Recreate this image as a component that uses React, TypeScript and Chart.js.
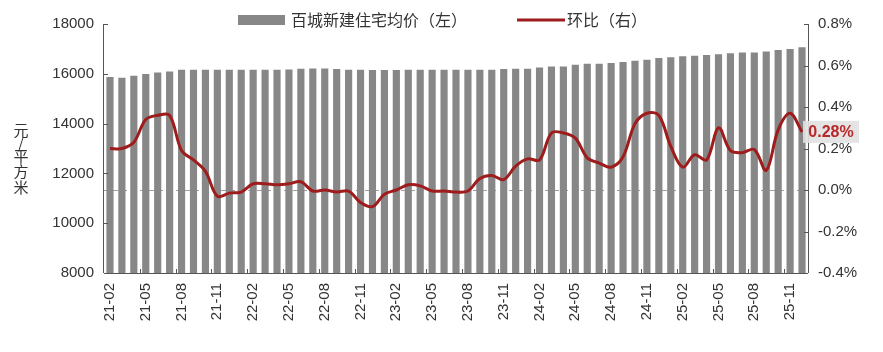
import React, { useEffect, useRef } from 'react';
import { Chart, registerables } from 'chart.js';

Chart.register(...registerables);

const categories = [
  '21-02', '21-03', '21-04', '21-05', '21-06', '21-07', '21-08', '21-09', '21-10', '21-11', '21-12',
  '22-01', '22-02', '22-03', '22-04', '22-05', '22-06', '22-07', '22-08', '22-09', '22-10', '22-11', '22-12',
  '23-01', '23-02', '23-03', '23-04', '23-05', '23-06', '23-07', '23-08', '23-09', '23-10', '23-11', '23-12',
  '24-01', '24-02', '24-03', '24-04', '24-05', '24-06', '24-07', '24-08', '24-09', '24-10', '24-11', '24-12',
  '25-01', '25-02', '25-03', '25-04', '25-05', '25-06', '25-07', '25-08', '25-09', '25-10', '25-11', '25-12',
];

const avgPrice = [
  15870, 15840, 15920, 15990, 16050, 16090, 16160, 16160, 16160, 16160, 16160,
  16160, 16160, 16160, 16160, 16170, 16200, 16210, 16210, 16190, 16160, 16160, 16150,
  16150, 16150, 16160, 16160, 16160, 16160, 16160, 16160, 16160, 16160, 16190, 16200,
  16200, 16250, 16290, 16290, 16360, 16400, 16400, 16430, 16470, 16520, 16560, 16630,
  16660, 16700, 16720, 16760, 16790, 16830, 16860, 16860, 16900, 16960, 17000, 17070,
];

const momPct = [
  0.20, 0.20, 0.23, 0.34, 0.36, 0.36, 0.19, 0.145, 0.09, -0.03, -0.015,
  -0.01, 0.03, 0.03, 0.025, 0.03, 0.04, -0.005, 0.0, -0.01, -0.005, -0.06, -0.08,
  -0.02, 0.0, 0.025, 0.02, -0.005, -0.005, -0.01, -0.005, 0.055, 0.07, 0.05, 0.115,
  0.15, 0.145, 0.275, 0.275, 0.25, 0.155, 0.13, 0.11, 0.16, 0.32, 0.37, 0.36,
  0.21, 0.11, 0.17, 0.145, 0.30, 0.19, 0.18, 0.195, 0.095, 0.29, 0.37, 0.28,
];

const leftTickMin = 8000;
const leftTickMax = 18000;
const leftTickStep = 2000;
const rightTickMin = -0.4;
const rightTickMax = 0.8;
const rightTickStep = 0.2;

const barLabel = '百城新建住宅均价（左）';
const lineLabel = '环比（右）';
const yTitleChars = ['元', '/', '平', '方', '米'];
const endLabel = '0.28%';

const FONT = "'Liberation Sans', Arial, sans-serif";
const CJK = "'Noto Sans CJK SC', 'Noto Sans', sans-serif";
const LINE_COLOR = '#9e1c1c';
const BAR_COLOR = '#878787';
const AXIS_COLOR = '#555555';

export default function App() {
  const ref = useRef<HTMLCanvasElement>(null);

  useEffect(() => {
    const canvas = ref.current;
    if (!canvas) return;

    const decor = {
      id: 'decor',
      beforeDatasetsDraw(chart: any) {
        const { ctx, chartArea, scales } = chart;
        const y0 = scales.y1.getPixelForValue(0);
        ctx.save();
        ctx.strokeStyle = '#a0a0a0';
        ctx.lineWidth = 1;
        ctx.setLineDash([5, 4]);
        ctx.beginPath();
        ctx.moveTo(chartArea.left, Math.round(y0) + 0.5);
        ctx.lineTo(chartArea.right, Math.round(y0) + 0.5);
        ctx.stroke();
        ctx.restore();
      },
      afterDraw(chart: any) {
        const { ctx, chartArea, scales } = chart;
        const { left, right, top, bottom } = chartArea;
        ctx.save();
        ctx.strokeStyle = AXIS_COLOR;
        ctx.lineWidth = 1;
        ctx.beginPath();
        ctx.moveTo(left - 0.5, top);
        ctx.lineTo(left - 0.5, bottom);
        ctx.moveTo(right + 0.5, top);
        ctx.lineTo(right + 0.5, bottom);
        ctx.moveTo(left, bottom + 0.5);
        ctx.lineTo(right, bottom + 0.5);
        for (let v = leftTickMin; v <= leftTickMax; v += leftTickStep) {
          const y = Math.round(scales.y.getPixelForValue(v)) + 0.5;
          ctx.moveTo(left, y);
          ctx.lineTo(left + 4, y);
        }
        for (let i = 0; i <= Math.round((rightTickMax - rightTickMin) / rightTickStep); i++) {
          const v = rightTickMin + i * rightTickStep;
          const y = Math.round(scales.y1.getPixelForValue(v)) + 0.5;
          ctx.moveTo(right, y);
          ctx.lineTo(right - 4, y);
        }
        const w = (right - left) / categories.length;
        for (let k = 3; k < categories.length; k += 3) {
          const x = Math.round(left + k * w) + 0.5;
          ctx.moveTo(x, bottom);
          ctx.lineTo(x, bottom - 4);
        }
        ctx.stroke();

        // legend
        ctx.fillStyle = BAR_COLOR;
        ctx.fillRect(238, 15, 47, 10);
        ctx.fillStyle = '#333';
        ctx.font = `16px ${CJK}`;
        ctx.textBaseline = 'middle';
        ctx.textAlign = 'left';
        ctx.fillText(barLabel, 291, 20);
        ctx.strokeStyle = LINE_COLOR;
        ctx.lineWidth = 3;
        ctx.beginPath();
        ctx.moveTo(517, 20);
        ctx.lineTo(565, 20);
        ctx.stroke();
        ctx.fillText(lineLabel, 567, 20);

        // y-axis title, stacked upright characters
        ctx.font = `15px ${CJK}`;
        ctx.textAlign = 'center';
        const ys = [130, 143, 156, 171, 187];
        yTitleChars.forEach((c, i) => ctx.fillText(c, 21, ys[i]));

        // end value label
        const meta = chart.getDatasetMeta(0);
        const last = meta.data[meta.data.length - 1];
        const ly = last.y;
        ctx.fillStyle = 'rgba(225,225,225,0.9)';
        ctx.fillRect(803, ly - 11, 56, 22);
        ctx.fillStyle = '#b8282a';
        ctx.font = `bold 16px ${FONT}`;
        ctx.textAlign = 'center';
        ctx.fillText(endLabel, 831, ly + 1);
        ctx.restore();
      },
    };

    const chart = new Chart(canvas, {
      type: 'bar',
      data: {
        labels: categories,
        datasets: [
          {
            type: 'line',
            label: lineLabel,
            data: momPct,
            yAxisID: 'y1',
            borderColor: LINE_COLOR,
            borderWidth: 3,
            pointRadius: 0,
            tension: 0.35,
            order: 0,
          } as any,
          {
            type: 'bar',
            label: barLabel,
            data: avgPrice,
            yAxisID: 'y',
            backgroundColor: BAR_COLOR,
            barPercentage: 0.6,
            categoryPercentage: 1,
            order: 1,
          } as any,
        ],
      },
      options: {
        responsive: false,
        animation: false,
        devicePixelRatio: 1,
        layout: { padding: { top: 24, left: 0, right: 0, bottom: 0 } },
        plugins: { legend: { display: false }, tooltip: { enabled: false } },
        scales: {
          x: {
            grid: { display: false, drawTicks: false },
            border: { display: false },
            ticks: {
              autoSkip: false,
              maxRotation: 90,
              minRotation: 90,
              padding: 10,
              color: '#333',
              font: { family: FONT, size: 15 },
              callback: (_v: any, i: number) => (i % 3 === 0 ? categories[i] : ''),
            },
            afterFit: (s: any) => { s.height = 79; },
          },
          y: {
            position: 'left',
            min: leftTickMin,
            max: leftTickMax,
            grid: { display: false, drawTicks: false },
            border: { display: false },
            ticks: {
              stepSize: leftTickStep,
              padding: 10,
              color: '#333',
              font: { family: FONT, size: 15 },
              callback: (v: any) => String(Math.round(Number(v))),
            },
            afterFit: (s: any) => { s.width = 104; },
          },
          y1: {
            position: 'right',
            min: rightTickMin,
            max: rightTickMax,
            grid: { display: false, drawTicks: false },
            border: { display: false },
            ticks: {
              stepSize: rightTickStep,
              padding: 10,
              color: '#333',
              font: { family: FONT, size: 15 },
              callback: (v: any) => Number(v).toFixed(1) + '%',
            },
            afterFit: (s: any) => { s.width = 75; },
          },
        },
      } as any,
      plugins: [decor],
    });

    return () => chart.destroy();
  }, []);

  return (
    <div style={{ position: 'fixed', left: 0, top: 0, width: 883, height: 352, background: '#fff' }}>
      <canvas ref={ref} width={883} height={352} style={{ width: 883, height: 352, display: 'block' }} />
    </div>
  );
}
